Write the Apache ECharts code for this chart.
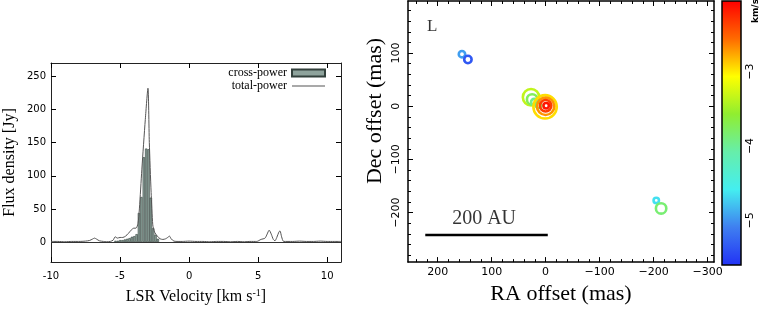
<!DOCTYPE html>
<html><head><meta charset="utf-8">
<script src="https://cdn.jsdelivr.net/npm/echarts@6/dist/echarts.min.js"></script>
<style>html,body{margin:0;padding:0;background:#fff}#c{width:763px;height:310px}</style>
</head><body><div id="c"></div>
<script>
// ---------- Left panel: spectrum ----------
const crossVel  = [-5.33,-5.16,-4.99,-4.82,-4.65,-4.48,-4.31,-4.14,-3.97,-3.80,-3.63,-3.46,-3.28,-3.105,-2.935,-2.77,-2.60,-2.43,-2.26];
const crossFlux = [2,2,3,3,4,5,6,8,9,12,44,68,128,141,140,67,21,11,5];
const totalVel  = [-10,-9.5,-9,-8.5,-8,-7.5,-7.2,-7.0,-6.85,-6.7,-6.5,-6.2,-6.0,-5.7,-5.5,-5.35,-5.2,-5.0,-4.8,-4.6,-4.4,-4.2,-4.0,-3.85,-3.7,-3.6,-3.42,-3.17,-2.98,-2.88,-2.75,-2.63,-2.5,-2.3,-2.1,-1.9,-1.7,-1.55,-1.42,-1.3,-1.1,-0.8,-0.5,0,0.5,1,1.5,2,2.5,3,3.5,4,4.4,4.9,5.2,5.5,5.65,5.8,5.95,6.1,6.22,6.35,6.5,6.58,6.7,6.85,7.5,8,8.5,9,9.5,10,10.5,11];
const totalFlux = [1,1,0.5,1,1,1.5,2.5,4.5,6,4.5,2,1,0.5,1,3,8,6,7,7,9,13,18,21,21,28,50,110,185,232,150,75,26,15,9,5,4,5,7,9,5,1.5,1,1,1.5,1,1,0.5,1,1,0.5,1,0.5,1,1,4,6,12,18,12,4,2,7,15,17,8,1,1,1.5,1,1,1.5,1,1,1];
const specXTicks = [-10,-5,0,5,10];
const specYTicks = [0,50,100,150,200,250];

// ---------- Right panel: maser spot map ----------
const spotRA   = [27, 25, 21, 13, 1, 0, 0, -1, 155, 144, -205, -214];
const spotDec  = [17, 13, 8, 2, -1, 0, 1, 1, 98, 88, -177, -192];
const spotVel  = [-3.35, -3.75, -3.95, -3.8, -2.95, -2.7, -2.35, -2.15, -4.95, -5.35, -4.65, -3.85];
const spotSize = [19, 13, 9, 8, 26, 20, 14, 8, 9, 10, 8, 13];
const mapXMajor = [200, 100, 0, -100, -200, -300];
const mapXMinor = [240,220,180,160,140,120,80,60,40,20,-20,-40,-60,-80,-120,-140,-160,-180,-220,-240,-260,-280];
const mapYMajor = [100, 0, -100, -200];
const mapYMinor = [180,160,140,120,80,60,40,20,-20,-40,-60,-80,-120,-140,-160,-180,-220,-240,-260,-280];
const scaleBarRA = [223, -4];
const scaleBarDec = [-242, -242];

// ---------- Colour bar ----------
const cbarMin = -5.6, cbarMax = -2.05;
const cbarLabels = [-5, -4, -3];
const cbarTicks = [-5.4,-5.2,-5.0,-4.8,-4.6,-4.4,-4.2,-4.0,-3.8,-3.6,-3.4,-3.2,-3.0,-2.8,-2.6,-2.4,-2.2];
const cbarColors = ['#2233f5','#3f7ff0','#44eef0','#66eeaa','#90ee30','#ffff00','#ff6a00','#ff0000'];

const serif = 'Liberation Serif';
const sans = 'DejaVu Sans';
const minus = v => String(v).replace('-', '\u2212');

const chart = echarts.init(document.getElementById('c'));

function specAxis(extra) {
  return Object.assign({type:'value', gridIndex:0, splitLine:{show:false}}, extra);
}
function mapAxisX(extra) {
  return Object.assign({type:'value', gridIndex:1, min:-312, max:255, inverse:true, splitLine:{show:false}}, extra);
}
function mapAxisY(extra) {
  return Object.assign({type:'value', gridIndex:1, min:-293, max:198, splitLine:{show:false}}, extra);
}
const blackLine = {show:true, onZero:false, lineStyle:{color:'#000', width:1.5}};
const noLine = {show:false, onZero:false};
const specLine = {show:true, onZero:false, lineStyle:{color:'#222', width:1}};
const tk = (vals, len) => ({show:true, inside:true, length:len, customValues:vals, lineStyle:{color:'#000', width:1}});

const option = {
  animation: false,
  backgroundColor: '#fff',
  grid: [
    {left:51, top:63, width:290, height:201},
    {left:408, top:1, width:306, height:264},
    {left:722, top:1, width:19, height:264}
  ],
  legend: {
    data: [
      {name:'cross-power', icon:'rect'},
      {name:'total-power', icon:'path://M0,0h0.05v0.05h-0.05z M0,3h33v1.1h-33z M32.95,7h0.05v-0.05h-0.05z'}
    ],
    orient:'vertical', align:'right', right:437, top:67, padding:0,
    itemWidth:33, itemHeight:7, itemGap:1,
    textStyle:{fontFamily:serif, fontSize:12, color:'#000'}
  },
  visualMap: {
    show:false, type:'continuous', min:cbarMin, max:cbarMax, dimension:2, seriesIndex:2,
    inRange:{color: cbarColors}
  },
  xAxis: [
    specAxis({position:'bottom', min:-10, max:11, axisLine:specLine,
      axisTick:tk(specXTicks,5), axisLabel:{customValues:specXTicks, margin:9, fontFamily:sans, fontSize:10, color:'#000'},
      name:'LSR Velocity [km s{sup|-1}]', nameLocation:'middle', nameGap:26,
      nameTextStyle:{fontFamily:serif, fontSize:16, color:'#000', rich:{sup:{fontFamily:serif, fontSize:10, verticalAlign:'top', padding:[0,0,8,0]}}}}),
    specAxis({position:'top', min:-10, max:11, axisLine:specLine, axisTick:tk(specXTicks,5), axisLabel:{show:false}}),
    mapAxisX({position:'bottom', axisLine:blackLine, axisTick:tk(mapXMajor,5),
      axisLabel:{customValues:mapXMajor, formatter:minus, margin:5, fontFamily:sans, fontSize:11, color:'#000'},
      name:'RA offset (mas)', nameLocation:'middle', nameGap:18,
      nameTextStyle:{fontFamily:serif, fontSize:22, color:'#000'}}),
    mapAxisX({position:'bottom', axisLine:noLine, axisTick:tk(mapXMinor,3), axisLabel:{show:false}}),
    mapAxisX({position:'top', axisLine:blackLine, axisTick:tk(mapXMajor,5), axisLabel:{show:false}}),
    mapAxisX({position:'top', axisLine:noLine, axisTick:tk(mapXMinor,3), axisLabel:{show:false}}),
    {type:'value', gridIndex:2, min:0, max:1, show:false}
  ],
  yAxis: [
    specAxis({position:'left', min:-30, max:270, axisLine:specLine, axisTick:tk(specYTicks,5),
      axisLabel:{customValues:specYTicks, margin:5, fontFamily:sans, fontSize:10, color:'#000'},
      name:'Flux density [Jy]', nameLocation:'middle', nameGap:33,
      nameTextStyle:{fontFamily:serif, fontSize:16, color:'#000'}}),
    specAxis({position:'right', min:-30, max:270, axisLine:specLine, axisTick:tk(specYTicks,5), axisLabel:{show:false}}),
    mapAxisY({position:'left', axisLine:blackLine, axisTick:tk(mapYMajor,5),
      axisLabel:{customValues:mapYMajor, formatter:minus, rotate:90, margin:6, fontFamily:sans, fontSize:11, color:'#000'}}),
    mapAxisY({position:'left', axisLine:noLine, axisTick:tk(mapYMinor,3), axisLabel:{show:false}}),
    mapAxisY({position:'right', axisLine:blackLine, axisTick:tk(mapYMajor,5), axisLabel:{show:false}}),
    mapAxisY({position:'right', axisLine:noLine, axisTick:tk(mapYMinor,3), axisLabel:{show:false}}),
    {type:'value', gridIndex:2, position:'right', min:cbarMin, max:cbarMax, splitLine:{show:false},
      axisLine:noLine, axisTick:tk(cbarTicks,4),
      axisLabel:{customValues:cbarLabels, formatter:minus, rotate:90, margin:4, fontFamily:sans, fontSize:11, color:'#000'}},
    {type:'value', gridIndex:2, position:'left', min:cbarMin, max:cbarMax, splitLine:{show:false},
      axisLine:noLine, axisTick:tk(cbarTicks,4), axisLabel:{show:false}}
  ],
  graphic: [
    {type:'text', x:375, y:111, rotation:Math.PI/2,
      style:{text:'Dec offset (mas)', font:'22px "Liberation Serif"', fill:'#000', align:'center', verticalAlign:'middle'}},
    {type:'text', x:756, y:11, rotation:Math.PI/2,
      style:{text:'km/s', font:'bold 9px "DejaVu Sans"', fill:'#000', align:'center', verticalAlign:'middle'}}
  ],
  series: [
    {
      name:'cross-power', type:'bar', xAxisIndex:0, yAxisIndex:0, barWidth:2.35,
      data: crossVel.map((v,i)=>[v, crossFlux[i]]),
      itemStyle:{color:'#8ea39c', borderColor:'#33413c', borderWidth:0.6}
    },
    {
      name:'total-power', type:'line', xAxisIndex:0, yAxisIndex:0, symbol:'none', smooth:0.25,
      data: totalVel.map((v,i)=>[v, totalFlux[i]]),
      lineStyle:{color:'#555', width:1}, itemStyle:{color:'#555'}, z:3,
      markLine:{silent:true, symbol:'none', label:{show:false}, lineStyle:{color:'#333', width:1, type:'solid'}, data:[{yAxis:0}]}
    },
    {
      name:'spots', type:'custom', xAxisIndex:2, yAxisIndex:2,
      data: spotRA.map((ra,i)=>[ra, spotDec[i], spotVel[i], spotSize[i]]),
      encode:{x:0, y:1},
      renderItem: (params, api) => {
        const c = api.coord([api.value(0), api.value(1)]);
        const d = api.value(3);
        return {type:'circle', shape:{cx:c[0], cy:c[1], r:Math.max(d/2 - 1.3, 1)},
          style:{fill:'none', stroke:api.visual('color'), lineWidth:2.6}};
      }
    },
    {
      name:'scalebar', type:'line', xAxisIndex:2, yAxisIndex:2, symbol:'none',
      data: scaleBarRA.map((x,i)=>[x, scaleBarDec[i]]),
      lineStyle:{color:'#000', width:2.3}
    },
    {
      name:'annot', type:'scatter', xAxisIndex:2, yAxisIndex:2, symbolSize:0,
      data: [
        {value:[210, 150], label:{formatter:'L', fontSize:17}},
        {value:[114, -212], label:{formatter:'200 AU', fontSize:20}}
      ],
      label:{show:true, position:'inside', fontFamily:serif, color:'#000'}
    },
    {
      name:'colorbar', type:'custom', xAxisIndex:6, yAxisIndex:6,
      data:[[0, cbarMin]],
      renderItem: (params, api) => {
        const p0 = api.coord([0, cbarMin]);
        const p1 = api.coord([1, cbarMax]);
        const stops = cbarColors.map((c,i)=>({offset:i/(cbarColors.length-1), color:c}));
        const shape = {x:p0[0], y:p1[1], width:p1[0]-p0[0], height:p0[1]-p1[1]};
        return {type:'group', children:[
          {type:'rect', shape:shape, style:{fill:new echarts.graphic.LinearGradient(0,1,0,0,stops)}},
          {type:'rect', shape:shape, style:{fill:'none', stroke:'#000', lineWidth:1.5}}
        ]};
      }
    }
  ]
};
chart.setOption(option);
</script>
</body></html>
